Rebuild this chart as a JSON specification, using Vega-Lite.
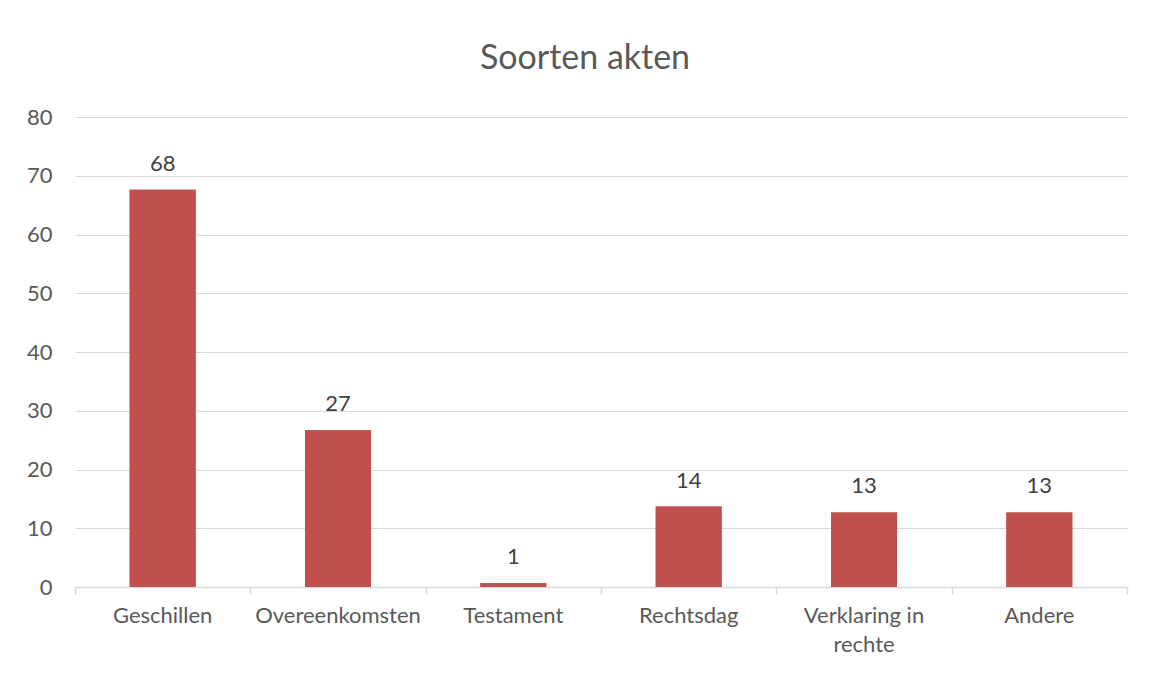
{
  "$schema": "https://vega.github.io/schema/vega-lite/v6.json",
  "autosize": {"type": "none"},
  "width": 1052,
  "height": 470,
  "padding": {"left": 75, "top": 117, "right": 25, "bottom": 87},
  "background": "white",
  "title": {
    "text": "Soorten akten",
    "font": "Lato",
    "fontSize": 34,
    "fontWeight": "normal",
    "color": "#595959",
    "anchor": "middle",
    "dx": -16,
    "offset": 30
  },
  "data": {
    "values": [
      {"soort": "Geschillen", "aantal": 67.6},
      {"soort": "Overeenkomsten", "aantal": 26.7},
      {"soort": "Testament", "aantal": 0.7},
      {"soort": "Rechtsdag", "aantal": 13.7},
      {"soort": "Verklaring in rechte", "aantal": 12.7},
      {"soort": "Andere", "aantal": 12.7}
    ]
  },
  "encoding": {
    "y": {
      "field": "aantal",
      "type": "quantitative",
      "scale": {"domain": [0, 80], "nice": false},
      "axis": {
        "title": null,
        "values": [0, 10, 20, 30, 40, 50, 60, 70, 80],
        "labelFont": "Lato",
        "labelFontSize": 22,
        "labelColor": "#595959",
        "labelPadding": 23,
        "ticks": false,
        "domain": false,
        "gridColor": "#d9d9d9",
        "gridWidth": 1.2
      }
    }
  },
  "layer": [
    {
      "mark": {"type": "bar", "color": "#C0504D"},
      "encoding": {
        "x": {
          "field": "soort",
          "type": "nominal",
          "sort": null,
          "scale": {"paddingInner": 0.624, "paddingOuter": 0.312},
          "axis": {
            "orient": "bottom",
            "title": null,
            "labels": false,
            "ticks": true,
            "tickOffset": -87.67,
            "tickSize": 7,
            "tickColor": "#d9d9d9",
            "tickWidth": 1.5,
            "domainColor": "#d9d9d9",
            "domainWidth": 1.5,
            "grid": false
          }
        }
      }
    },
    {
      "mark": {"type": "bar", "color": "#C0504D"},
      "encoding": {
        "x": {
          "field": "soort",
          "type": "nominal",
          "sort": null,
          "axis": {
            "orient": "bottom",
            "title": null,
            "values": ["Andere"],
            "labels": false,
            "ticks": true,
            "tickOffset": 87.67,
            "tickSize": 7,
            "tickColor": "#d9d9d9",
            "tickWidth": 1.5,
            "domain": false,
            "grid": false
          }
        }
      }
    },
    {
      "mark": {
        "type": "text",
        "baseline": "bottom",
        "dy": -14,
        "font": "Lato",
        "fontSize": 22,
        "color": "#404040"
      },
      "encoding": {
        "x": {
          "field": "soort",
          "type": "nominal",
          "sort": null,
          "axis": {
            "orient": "bottom",
            "title": null,
            "labelAngle": 0,
            "labelFont": "Lato",
            "labelFontSize": 22,
            "labelColor": "#595959",
            "labelPadding": 18,
            "labelLineHeight": 29,
            "labelExpr": "datum.label == 'Verklaring in rechte' ? ['Verklaring in', 'rechte'] : datum.label",
            "ticks": false,
            "domain": false,
            "grid": false
          }
        },
        "text": {"field": "aantal", "type": "quantitative", "format": ".0f"}
      }
    }
  ],
  "resolve": {"axis": {"x": "independent"}},
  "config": {"view": {"stroke": null}}
}
